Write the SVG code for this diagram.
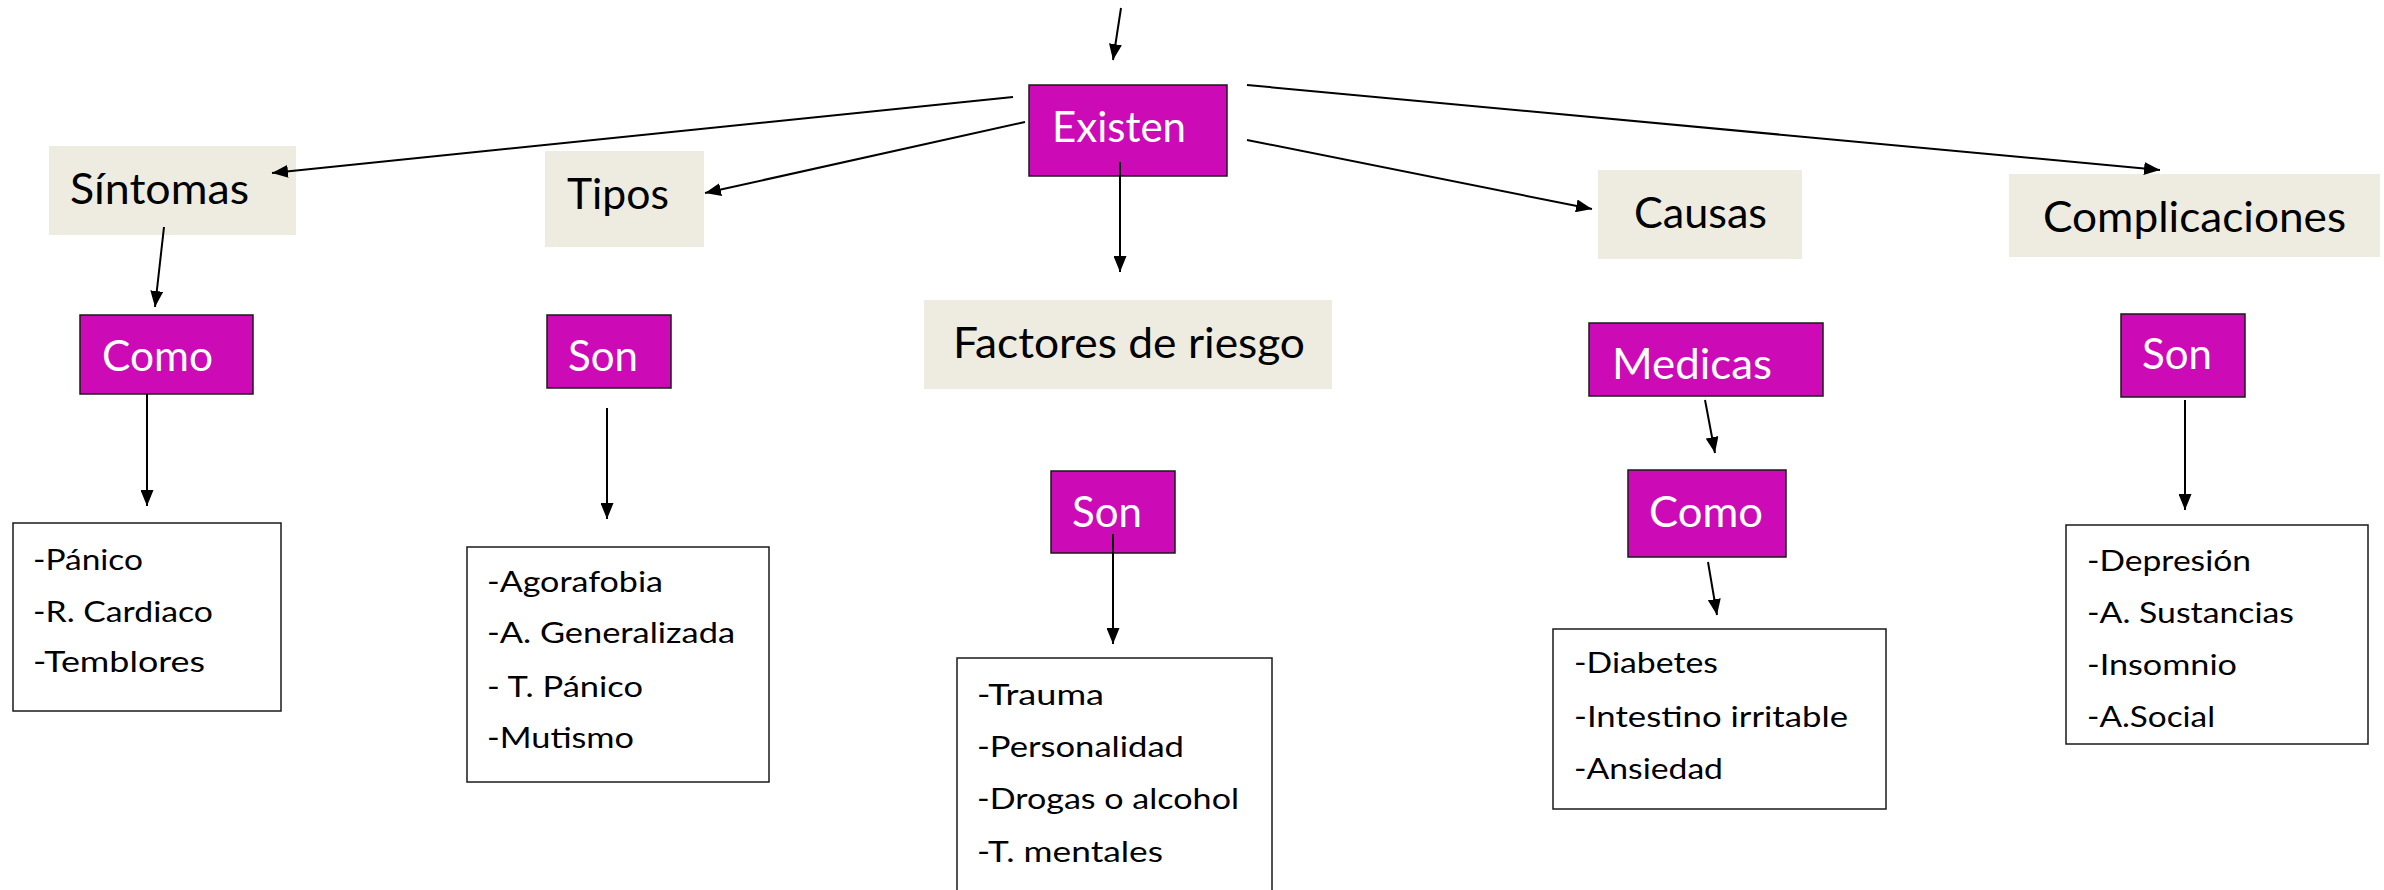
<svg xmlns="http://www.w3.org/2000/svg" width="2384" height="890" viewBox="0 0 2384 890">
<defs>
<marker id="ah" markerUnits="userSpaceOnUse" markerWidth="16" markerHeight="13" refX="16" refY="6.5" orient="auto">
<path d="M0,0 L16,6.5 L0,13 z" fill="#000"/>
</marker>
<style>
.beige{fill:#EEECE1;stroke:none}
.mag{fill:#CC0AB6;stroke:#1a1a1a;stroke-width:1.5}
.list{fill:#fff;stroke:#1a1a1a;stroke-width:1.5}
.big{font-family:Lato,"Open Sans",sans-serif;font-size:42px;fill:#000}
.wt{font-family:Lato,"Open Sans",sans-serif;font-size:42px;fill:#fff}
.li{font-family:Lato,"Open Sans",sans-serif;font-size:29px;fill:#000}
.c{stroke:#000;stroke-width:2;fill:none;marker-end:url(#ah)}
</style>
</defs>
<rect width="2384" height="890" fill="#fff"/>
<g id="sintomas"><rect class="beige" x="49" y="146" width="247" height="89"/><text class="big" x="70" y="204" textLength="179" lengthAdjust="spacingAndGlyphs">Síntomas</text></g>
<g id="tipos"><rect class="beige" x="545" y="151" width="159" height="96"/><text class="big" x="567" y="209" textLength="102" lengthAdjust="spacingAndGlyphs">Tipos</text></g>
<g id="factores"><rect class="beige" x="924" y="300" width="408" height="89"/><text class="big" x="953" y="358" textLength="352" lengthAdjust="spacingAndGlyphs">Factores de riesgo</text></g>
<g id="causas"><rect class="beige" x="1598" y="170" width="204" height="89"/><text class="big" x="1634" y="228" textLength="133" lengthAdjust="spacingAndGlyphs">Causas</text></g>
<g id="complicaciones"><rect class="beige" x="2009" y="174" width="371" height="83"/><text class="big" x="2043" y="232" textLength="303" lengthAdjust="spacingAndGlyphs">Complicaciones</text></g>
<g id="existen"><rect class="mag" x="1029" y="85" width="198" height="91"/><text class="wt" x="1052" y="142" textLength="134" lengthAdjust="spacingAndGlyphs">Existen</text></g>
<g id="como1"><rect class="mag" x="80" y="315" width="173" height="79"/><text class="wt" x="102" y="371" textLength="111" lengthAdjust="spacingAndGlyphs">Como</text></g>
<g id="son1"><rect class="mag" x="547" y="315" width="124" height="73"/><text class="wt" x="568" y="371" textLength="70" lengthAdjust="spacingAndGlyphs">Son</text></g>
<g id="son2"><rect class="mag" x="1051" y="471" width="124" height="82"/><text class="wt" x="1072" y="527" textLength="70" lengthAdjust="spacingAndGlyphs">Son</text></g>
<g id="medicas"><rect class="mag" x="1589" y="323" width="234" height="73"/><text class="wt" x="1612" y="379" textLength="160" lengthAdjust="spacingAndGlyphs">Medicas</text></g>
<g id="como2"><rect class="mag" x="1628" y="470" width="158" height="87"/><text class="wt" x="1649" y="527" textLength="114" lengthAdjust="spacingAndGlyphs">Como</text></g>
<g id="son3"><rect class="mag" x="2121" y="314" width="124" height="83"/><text class="wt" x="2142" y="369" textLength="70" lengthAdjust="spacingAndGlyphs">Son</text></g>
<g id="list1"><rect class="list" x="13" y="523" width="268" height="188"/>
<text class="li" x="33" y="570" textLength="110" lengthAdjust="spacingAndGlyphs">-Pánico</text>
<text class="li" x="33" y="622" textLength="180" lengthAdjust="spacingAndGlyphs">-R. Cardiaco</text>
<text class="li" x="33" y="672" textLength="172" lengthAdjust="spacingAndGlyphs">-Temblores</text></g>
<g id="list2"><rect class="list" x="467" y="547" width="302" height="235"/>
<text class="li" x="487" y="592" textLength="176" lengthAdjust="spacingAndGlyphs">-Agorafobia</text>
<text class="li" x="487" y="643" textLength="248" lengthAdjust="spacingAndGlyphs">-A. Generalizada</text>
<text class="li" x="487" y="697" textLength="156" lengthAdjust="spacingAndGlyphs">- T. Pánico</text>
<text class="li" x="487" y="748" textLength="147" lengthAdjust="spacingAndGlyphs">-Mutismo</text></g>
<g id="list3"><rect class="list" x="957" y="658" width="315" height="250"/>
<text class="li" x="977" y="705" textLength="127" lengthAdjust="spacingAndGlyphs">-Trauma</text>
<text class="li" x="977" y="757" textLength="207" lengthAdjust="spacingAndGlyphs">-Personalidad</text>
<text class="li" x="977" y="809" textLength="262" lengthAdjust="spacingAndGlyphs">-Drogas o alcohol</text>
<text class="li" x="977" y="862" textLength="186" lengthAdjust="spacingAndGlyphs">-T. mentales</text></g>
<g id="list4"><rect class="list" x="1553" y="629" width="333" height="180"/>
<text class="li" x="1574" y="673" textLength="144" lengthAdjust="spacingAndGlyphs">-Diabetes</text>
<text class="li" x="1574" y="727" textLength="274" lengthAdjust="spacingAndGlyphs">-Intestino irritable</text>
<text class="li" x="1574" y="779" textLength="149" lengthAdjust="spacingAndGlyphs">-Ansiedad</text></g>
<g id="list5"><rect class="list" x="2066" y="525" width="302" height="219"/>
<text class="li" x="2087" y="571" textLength="164" lengthAdjust="spacingAndGlyphs">-Depresión</text>
<text class="li" x="2087" y="623" textLength="207" lengthAdjust="spacingAndGlyphs">-A. Sustancias</text>
<text class="li" x="2087" y="675" textLength="150" lengthAdjust="spacingAndGlyphs">-Insomnio</text>
<text class="li" x="2087" y="727" textLength="128" lengthAdjust="spacingAndGlyphs">-A.Social</text></g>
<g id="connectors">
<line class="c" x1="1121" y1="8" x2="1113" y2="60"/>
<line class="c" x1="1013" y1="97" x2="272" y2="173"/>
<line class="c" x1="1025" y1="122" x2="705" y2="193"/>
<line class="c" x1="1120" y1="162" x2="1120" y2="272"/>
<line class="c" x1="1247" y1="140" x2="1592" y2="209"/>
<line class="c" x1="1247" y1="85" x2="2160" y2="170"/>
<line class="c" x1="164" y1="227" x2="155" y2="307"/>
<line class="c" x1="147" y1="394" x2="147" y2="506"/>
<line class="c" x1="607" y1="408" x2="607" y2="519"/>
<line class="c" x1="1113" y1="534" x2="1113" y2="644"/>
<line class="c" x1="1705" y1="400" x2="1715" y2="453"/>
<line class="c" x1="1708" y1="562" x2="1717" y2="615"/>
<line class="c" x1="2185" y1="400" x2="2185" y2="510"/>
</g>
</svg>
